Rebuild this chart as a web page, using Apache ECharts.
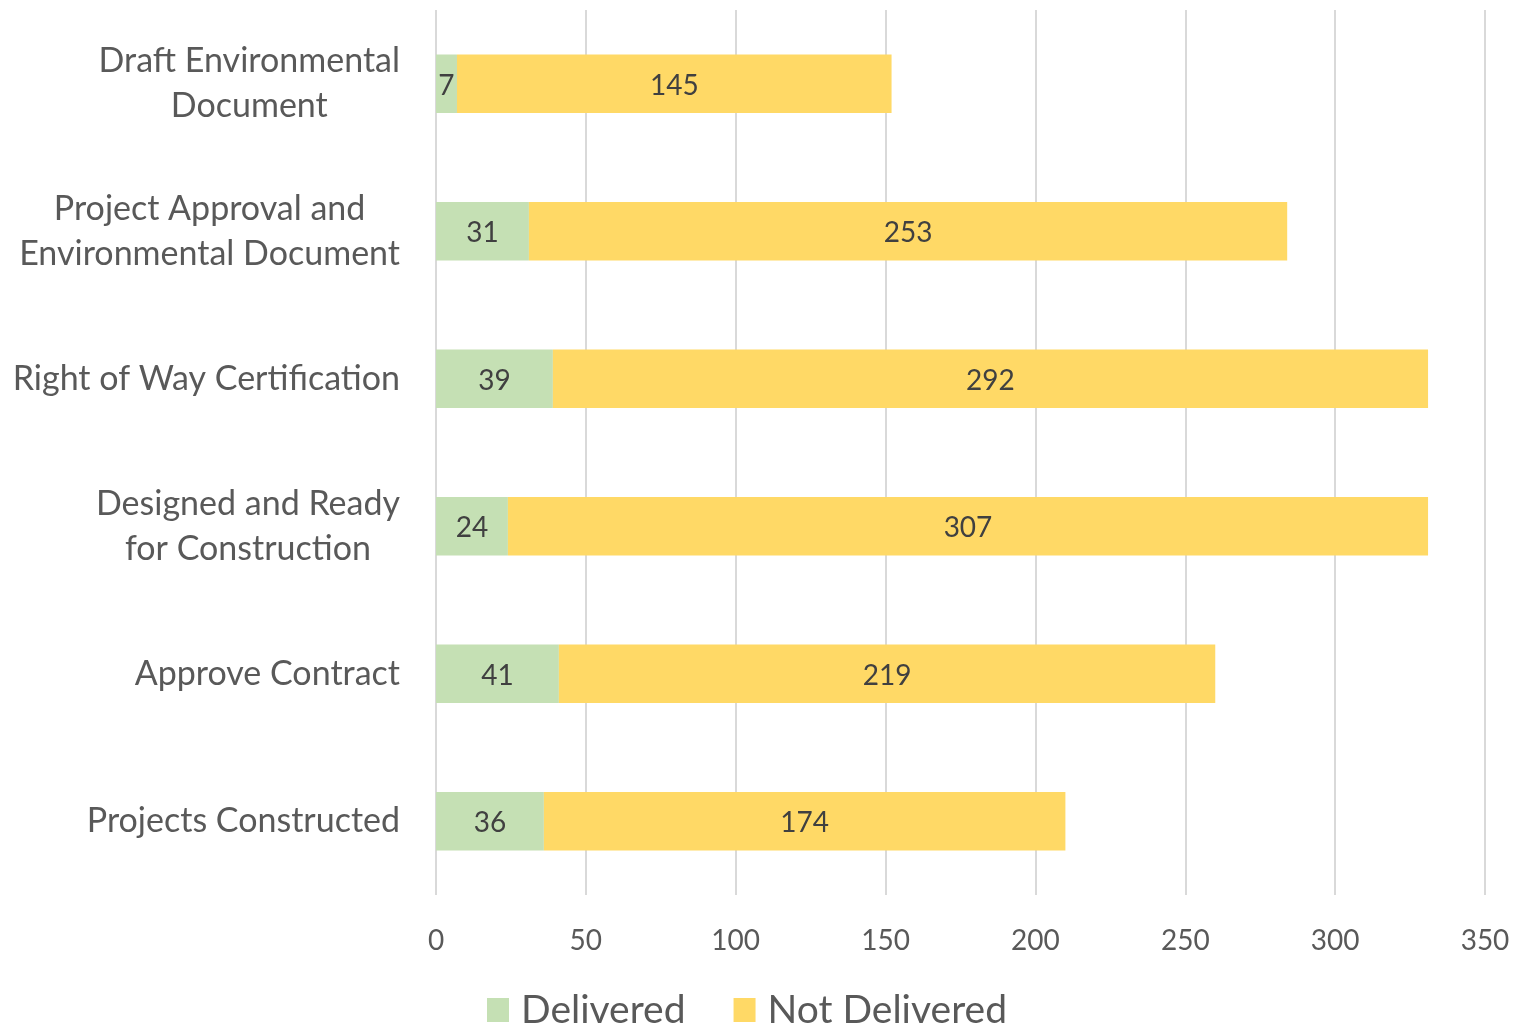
<!DOCTYPE html>
<html><head><meta charset="utf-8">
<script src="https://cdn.jsdelivr.net/npm/echarts@6/dist/echarts.min.js"></script>
<style>html,body{margin:0;padding:0;background:#fff}#c{width:1514px;height:1028px}</style>
</head><body><div id="c"></div>
<script>
const categories = ["Draft Environmental\nDocument","Project Approval and\nEnvironmental Document","Right of Way Certification","Designed and Ready\nfor Construction","Approve Contract","Projects Constructed"];
const delivered = [7,31,39,24,41,36];
const notDelivered = [145,253,292,307,219,174];
const FONT = "Lato";
const chart = echarts.init(document.getElementById('c'));
chart.setOption({
  animation:false,
  textStyle:{fontFamily:FONT},
  grid:{left:436,right:29,top:10,bottom:133,containLabel:false},
  legend:{top:990,left:487,itemWidth:22,itemHeight:24,itemGap:48,icon:'rect',padding:0,
    textStyle:{fontSize:39,lineHeight:40,color:'#595959',fontFamily:FONT,padding:[0,0,0,7]},
    data:['Delivered','Not Delivered']},
  xAxis:{type:'value',min:0,max:350,interval:50,
    axisLine:{show:false},axisTick:{show:false},
    axisLabel:{fontSize:28,color:'#595959',margin:32,fontFamily:FONT},
    splitLine:{lineStyle:{color:'#d9d9d9',width:2}}},
  yAxis:{type:'category',inverse:true,data:categories,
    axisLine:{show:false},axisTick:{show:false},
    axisLabel:{margin:36,align:'right',
      formatter:v=>v.split('\n').map(s=>'{c|'+s+'}').join('\n'),
      rich:{c:{align:'center',fontSize:34,lineHeight:45,color:'#595959',fontFamily:FONT}}
    }
  },
  series:[
    {name:'Delivered',type:'bar',stack:'a',data:delivered,barWidth:'39.5%',
     itemStyle:{color:'#C5E0B4'},
     label:{show:true,position:'inside',fontSize:28,color:'#404040',fontFamily:FONT,offset:[0,2]}},
    {name:'Not Delivered',type:'bar',stack:'a',data:notDelivered,barWidth:'39.5%',
     itemStyle:{color:'#FFD966'},
     label:{show:true,position:'inside',fontSize:28,color:'#404040',fontFamily:FONT,offset:[0,2]}}
  ]
});
</script></body></html>
